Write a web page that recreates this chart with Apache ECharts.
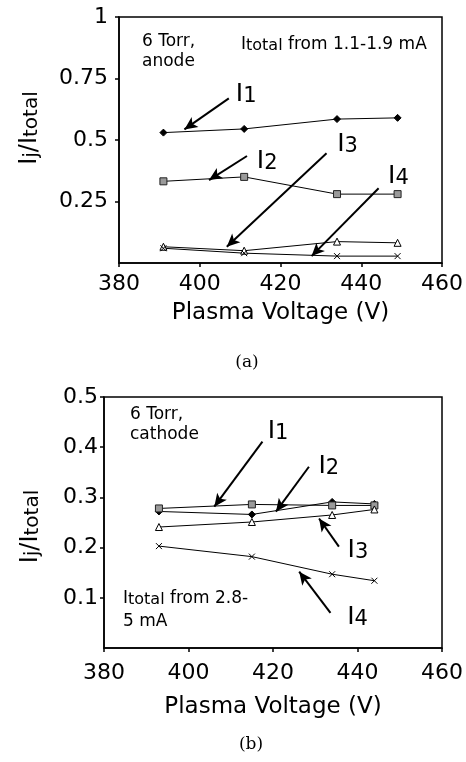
<!DOCTYPE html>
<html>
<head>
<meta charset="utf-8">
<script src="https://cdn.jsdelivr.net/npm/echarts@6/dist/echarts.min.js"></script>
<style>
  html, body { margin: 0; padding: 0; background: #fff; }
  #chart { width: 466px; height: 762px; }
</style>
</head>
<body>
<div id="chart"></div>
<script>
// (a) anode
const voltsA = [391, 411, 434, 449];
const i1A = [0.53, 0.545, 0.585, 0.59];
const i2A = [0.332, 0.35, 0.28, 0.28];
const i3A = [0.066, 0.05, 0.087, 0.082];
const i4A = [0.06, 0.04, 0.028, 0.028];

// (b) cathode
const voltsB = [393, 415, 434, 444];
const i1B = [0.272, 0.266, 0.291, 0.287];
const i2B = [0.278, 0.286, 0.284, 0.284];
const i3B = [0.241, 0.251, 0.265, 0.276];
const i4B = [0.203, 0.182, 0.147, 0.134];

// arrow [tailX, tailY, headX, headY] and label position, per series
const arrowsA = [[407.2, 0.669, 396.2, 0.543], [411.7, 0.435, 402.3, 0.337], [431.4, 0.446, 406.7, 0.066], [444.3, 0.304, 427.7, 0.028]];
const labelsA = [[411.5, 0.685], [416.7, 0.411], [436.6, 0.48], [449.2, 0.352]];
const arrowsB = [[417.5, 0.411, 406.1, 0.2815], [428.5, 0.361, 420.7, 0.2716], [435.6, 0.202, 430.9, 0.258], [433.6, 0.07, 426.2, 0.152]];
const labelsB = [[421.2, 0.431], [433.2, 0.361], [440.1, 0.195], [440, 0.061]];

const FONT = "DejaVu Sans";
const crossPath = "path://M0,0L10,10M10,0L0,10";

const symbols = [
  { symbol: "diamond", symbolSize: 7, itemStyle: { color: "#000", borderColor: "#000", borderWidth: 1 } },
  { symbol: "rect", symbolSize: 7, itemStyle: { color: "#9a9a9a", borderColor: "#222", borderWidth: 1 } },
  { symbol: "triangle", symbolSize: 7, itemStyle: { color: "#fff", borderColor: "#000", borderWidth: 1 } },
  { symbol: crossPath, symbolSize: 6, itemStyle: { color: "#000", borderColor: "#000", borderWidth: 1 } }
];

const subRich = {
  m: { fontFamily: FONT, fontSize: 25, lineHeight: 25, verticalAlign: "top", color: "#000" },
  s: { fontFamily: FONT, fontSize: 21, lineHeight: 21, padding: [10, 0, 0, 0], verticalAlign: "bottom", color: "#000" }
};

function makeSeries(idx, volts, ys, k, arrow, lab) {
  return Object.assign({
    type: "line",
    xAxisIndex: idx,
    yAxisIndex: idx,
    data: volts.map((v, i) => [v, ys[i]]),
    lineStyle: { color: "#000", width: 1 },
    silent: true,
    markLine: {
      silent: true,
      symbol: ["none", "arrow"],
      symbolSize: [9, 13],
      label: { show: false },
      lineStyle: { color: "#000", width: 2, type: "solid" },
      data: [[{ coord: [arrow[0], arrow[1]] }, { coord: [arrow[2], arrow[3]] }]]
    },
    markPoint: {
      silent: true,
      symbol: "circle",
      symbolSize: 1,
      itemStyle: { color: "rgba(0,0,0,0)" },
      label: {
        show: true,
        position: "inside",
        formatter: "{m|I}{s|" + (k + 1) + "}",
        rich: subRich
      },
      data: [{ coord: lab }]
    }
  }, symbols[k]);
}

function xAxis(idx, labelMargin, nameGap) {
  return {
    type: "value",
    gridIndex: idx,
    min: 380, max: 460, interval: 20,
    name: "Plasma Voltage (V)",
    nameLocation: "middle",
    nameGap: nameGap,
    nameTextStyle: { fontFamily: FONT, fontSize: 23, color: "#000" },
    axisLine: { lineStyle: { color: "#000", width: 1.5 } },
    axisTick: { length: 4, lineStyle: { color: "#000", width: 1.5 } },
    axisLabel: { fontFamily: FONT, fontSize: 22, color: "#000", margin: labelMargin, showMinLabel: true, showMaxLabel: true },
    splitLine: { show: false }
  };
}

function yAxis(idx, max, interval, labelMargin, nameGap, namePad) {
  return {
    type: "value",
    gridIndex: idx,
    min: 0, max: max, interval: interval,
    name: "{m|I}{s|j}{m|/I}{s|total}",
    nameLocation: "middle",
    nameRotate: 90,
    nameGap: nameGap,
    nameTextStyle: {
      padding: namePad,
      rich: {
        m: { fontFamily: FONT, fontSize: 24, lineHeight: 24, verticalAlign: "top", color: "#000" },
        s: { fontFamily: FONT, fontSize: 20, lineHeight: 20, padding: [8, 0, 0, 0], verticalAlign: "bottom", color: "#000" }
      }
    },
    axisLine: { lineStyle: { color: "#000", width: 1.5 } },
    axisTick: { length: 4, lineStyle: { color: "#000", width: 1.5 } },
    axisLabel: { fontFamily: FONT, fontSize: 22, color: "#000", margin: labelMargin, showMinLabel: false },
    splitLine: { show: false }
  };
}

const noteRich = {
  m: { fontFamily: FONT, fontSize: 17, lineHeight: 18, verticalAlign: "top", fill: "#000" },
  s: { fontFamily: FONT, fontSize: 16, lineHeight: 16, padding: [8, 0, 0, 0], verticalAlign: "bottom", fill: "#000" }
};

const chart = echarts.init(document.getElementById("chart"));

const option = {
  animation: false,
  backgroundColor: "#fff",
  grid: [
    { left: 119, right: 21, top: 17, height: 246, show: true, borderColor: "#000", borderWidth: 1.5 },
    { left: 104, right: 21, top: 397, height: 251, show: true, borderColor: "#000", borderWidth: 1.5 }
  ],
  xAxis: [xAxis(0, 10, 39), xAxis(1, 14, 48)],
  yAxis: [yAxis(0, 1, 0.25, 11, 77, [0, 0, 0, 24]), yAxis(1, 0.5, 0.1, 6, 61, [0, 8, 0, 0])],
  series: [
    makeSeries(0, voltsA, i1A, 0, arrowsA[0], labelsA[0]),
    makeSeries(0, voltsA, i2A, 1, arrowsA[1], labelsA[1]),
    makeSeries(0, voltsA, i3A, 2, arrowsA[2], labelsA[2]),
    makeSeries(0, voltsA, i4A, 3, arrowsA[3], labelsA[3]),
    makeSeries(1, voltsB, i1B, 0, arrowsB[0], labelsB[0]),
    makeSeries(1, voltsB, i2B, 1, arrowsB[1], labelsB[1]),
    makeSeries(1, voltsB, i3B, 2, arrowsB[2], labelsB[2]),
    makeSeries(1, voltsB, i4B, 3, arrowsB[3], labelsB[3])
  ],
  graphic: [
    { type: "text", left: 142, top: 32, style: { text: "6 Torr,\nanode", fontFamily: FONT, fontSize: 17, lineHeight: 20, fill: "#000" } },
    { type: "text", left: 241, top: 30, style: { text: "{m|I}{s|total}{m| from 1.1-1.9 mA}", rich: noteRich } },
    { type: "text", left: 130, top: 405, style: { text: "6 Torr,\ncathode", fontFamily: FONT, fontSize: 17, lineHeight: 20, fill: "#000" } },
    { type: "text", left: 123, top: 584, style: { text: "{m|I}{s|total}{m| from 2.8-}", rich: noteRich } },
    { type: "text", left: 123, top: 613, style: { text: "5 mA", fontFamily: FONT, fontSize: 17, fill: "#000" } },
    { type: "text", x: 247, y: 363, style: { text: "(a)", fontFamily: "DejaVu Serif", fontSize: 17, align: "center", verticalAlign: "middle", fill: "#000" } },
    { type: "text", x: 251, y: 745, style: { text: "(b)", fontFamily: "DejaVu Serif", fontSize: 17, align: "center", verticalAlign: "middle", fill: "#000" } }
  ]
};

chart.setOption(option);
</script>
</body>
</html>
